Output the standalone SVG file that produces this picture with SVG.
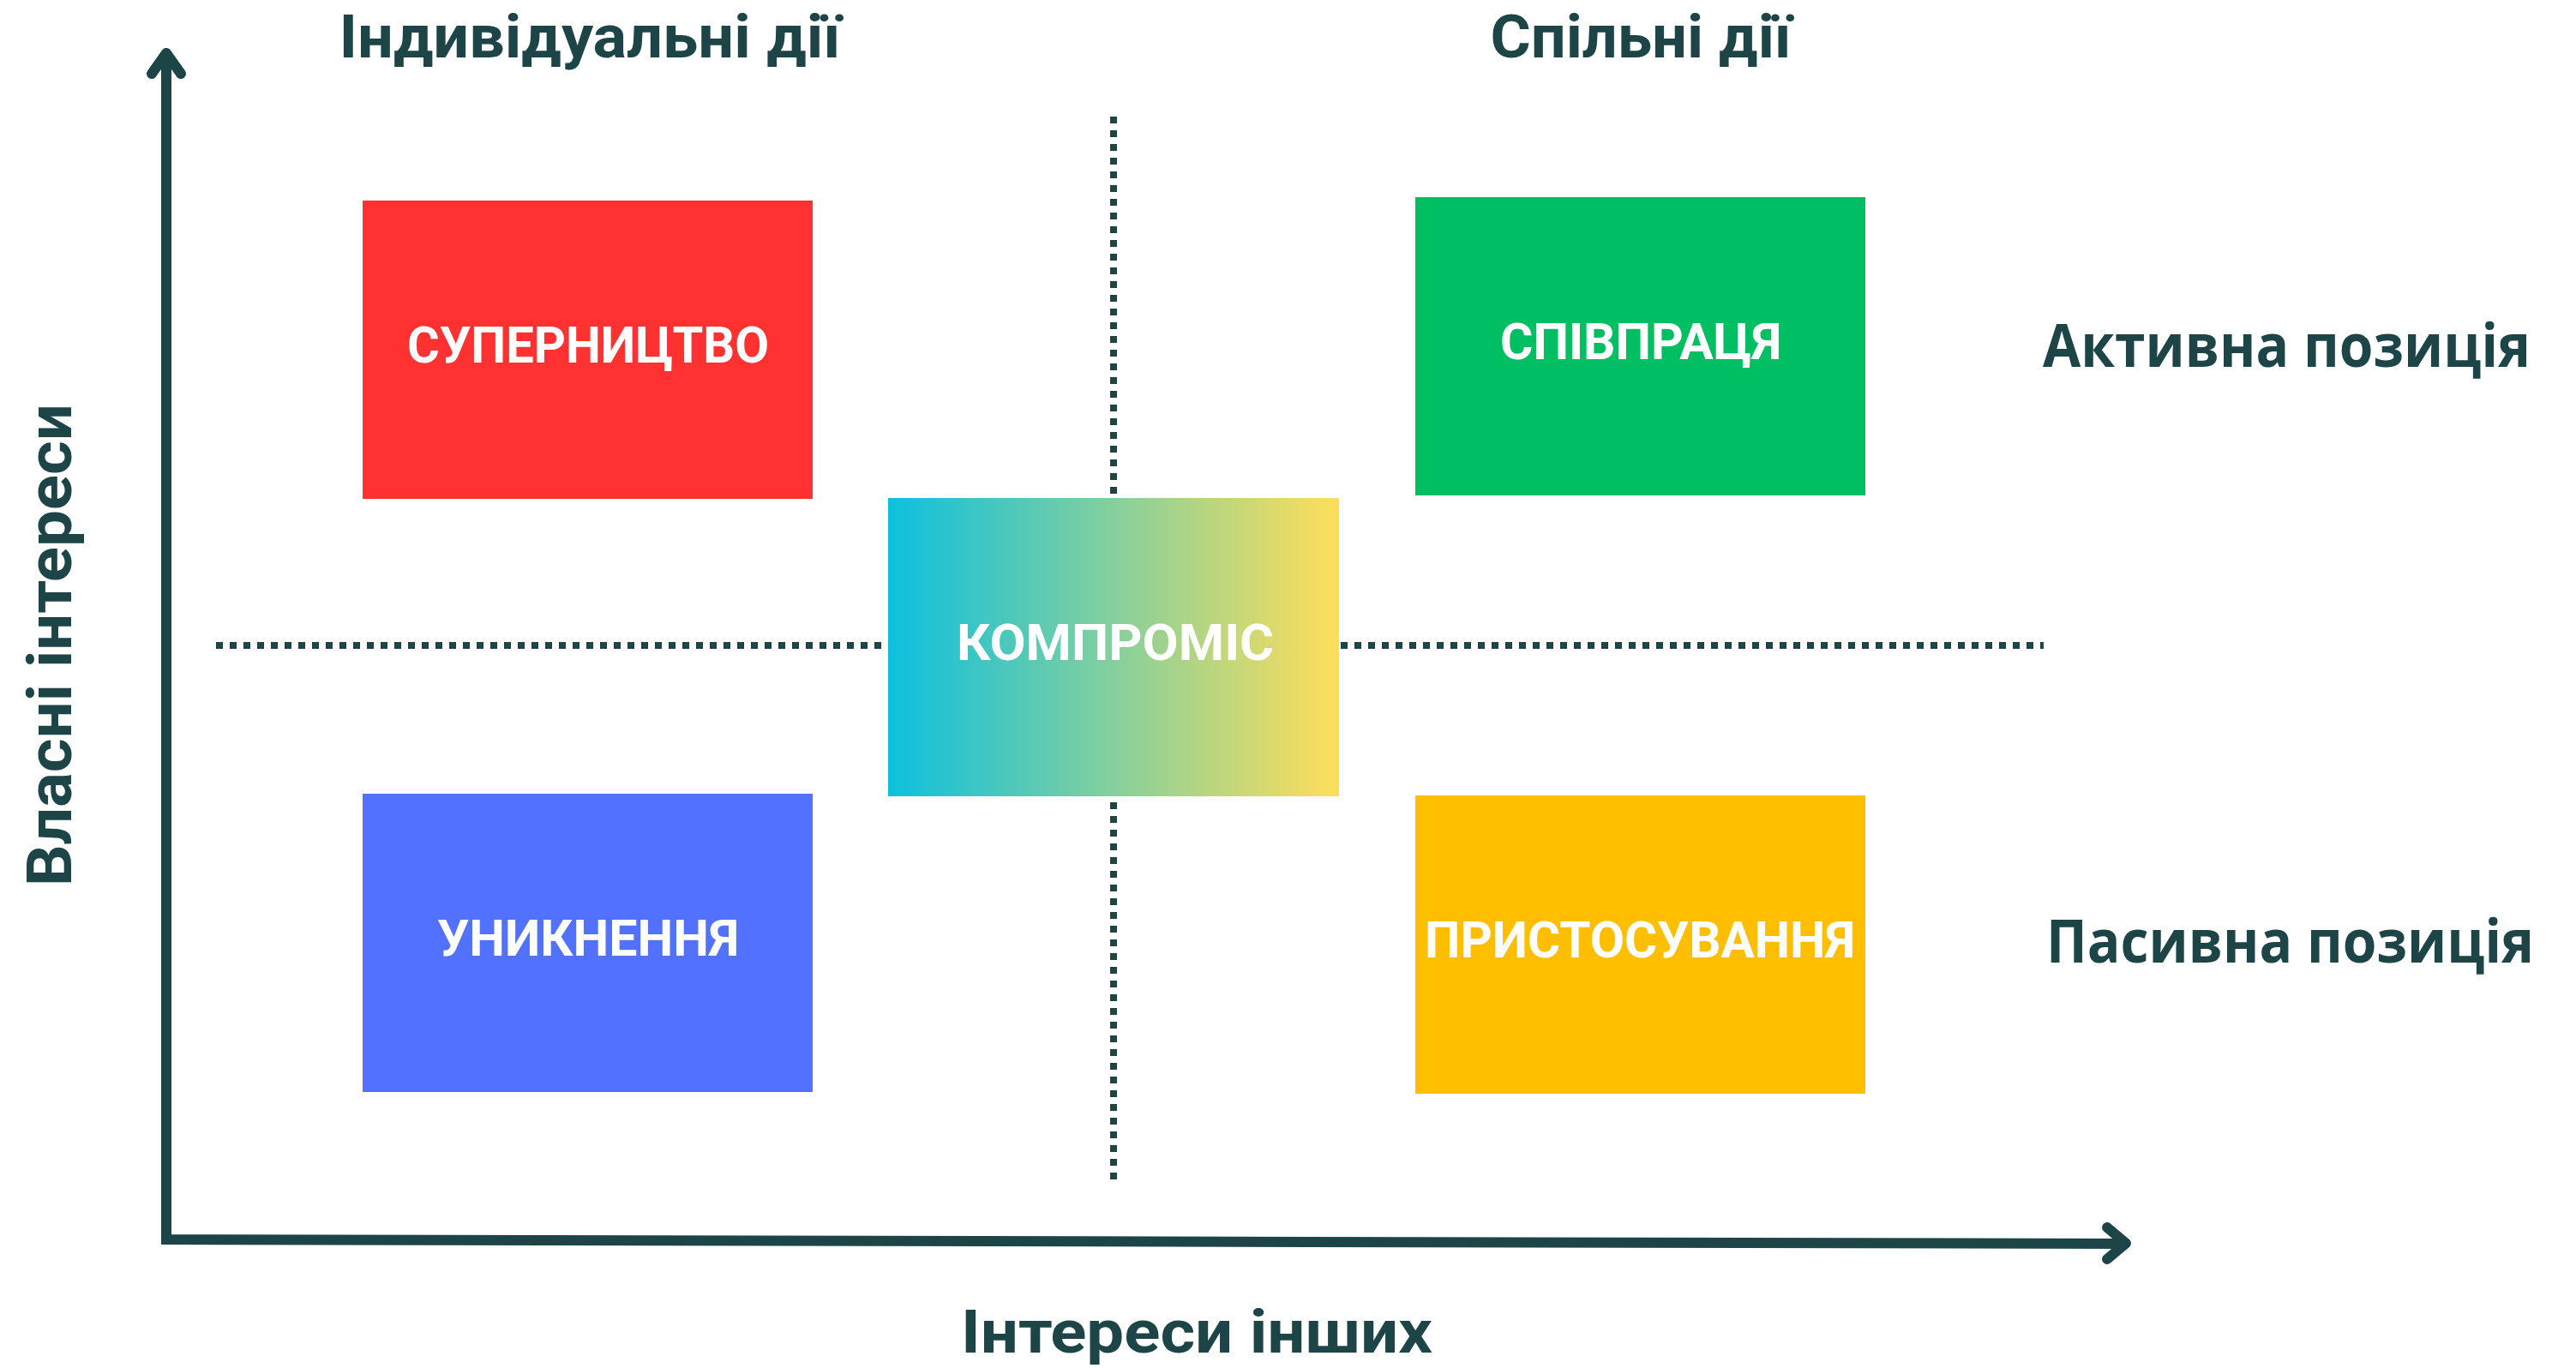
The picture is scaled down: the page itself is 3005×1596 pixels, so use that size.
<svg xmlns="http://www.w3.org/2000/svg" width="3005" height="1596" viewBox="0 0 3005 1596">
  <defs>
    <linearGradient id="gradComp" x1="0" y1="0" x2="1" y2="0">
      <stop offset="0" stop-color="#0CC0DF"/>
      <stop offset="1" stop-color="#FFDE59"/>
    </linearGradient>
    <style>
      .lbl { font-family: Roboto, "Open Sans", "DejaVu Sans", sans-serif; font-weight: 700; fill: #1D4547; }
      .side { font-family: "Open Sans", "DejaVu Sans", sans-serif; font-weight: 700; fill: #1D4547; font-size: 70px; }
      .box-text { font-family: Roboto, "Open Sans", "DejaVu Sans", sans-serif; font-weight: 700; fill: #FFFFFF; font-size: 60px; text-anchor: middle; }
      .axis { fill: none; stroke: #1D4547; stroke-width: 12; }
      .head { fill: none; stroke: #1D4547; stroke-width: 12; stroke-linecap: round; stroke-linejoin: round; }
      .dots { fill: none; stroke: #1D4547; stroke-width: 8; stroke-dasharray: 8 8; }
    </style>
  </defs>
  <rect width="3005" height="1596" fill="#FFFFFF"/>

  <g id="connectors">
    <line class="dots" x1="252" y1="753" x2="2384" y2="753"/>
    <line class="dots" x1="1299" y1="136" x2="1299" y2="1376"/>
    <polyline class="axis" stroke-linejoin="miter" points="194,66 194,1446 2478,1451"/>
    <polyline class="head" points="177,86 194,62 211,86"/>
    <polyline class="head" points="2458,1432 2480,1450.5 2458,1469"/>
  </g>

  <g id="labels">
    <text class="lbl" x="688" y="67" font-size="70" text-anchor="middle" textLength="585" lengthAdjust="spacingAndGlyphs">Індивідуальні дії</text>
    <text class="lbl" x="1914" y="67" font-size="70" text-anchor="middle" textLength="351" lengthAdjust="spacingAndGlyphs">Спільні дії</text>
    <text class="lbl" x="1396" y="1578" font-size="70" text-anchor="middle" textLength="550" lengthAdjust="spacingAndGlyphs">Інтереси інших</text>
    <text class="lbl" font-size="72" text-anchor="middle" transform="translate(83,752.5) rotate(-90)" textLength="563" lengthAdjust="spacingAndGlyphs">Власні інтереси</text>
    <text class="side" x="2383" y="428" textLength="569" lengthAdjust="spacingAndGlyphs">Активна позиція</text>
    <text class="side" x="2387" y="1123" textLength="569" lengthAdjust="spacingAndGlyphs">Пасивна позиція</text>
  </g>

  <g id="node-competition">
    <rect x="423" y="234" width="525" height="348" fill="#FF3131"/>
    <text class="box-text" x="686" y="423" textLength="422" lengthAdjust="spacingAndGlyphs">СУПЕРНИЦТВО</text>
  </g>
  <g id="node-collaboration">
    <rect x="1651" y="230" width="525" height="348" fill="#00BF63"/>
    <text class="box-text" x="1914" y="419" textLength="328" lengthAdjust="spacingAndGlyphs">СПІВПРАЦЯ</text>
  </g>
  <g id="node-avoidance">
    <rect x="423" y="926" width="525" height="348" fill="#5271FF"/>
    <text class="box-text" x="686" y="1115" textLength="352" lengthAdjust="spacingAndGlyphs">УНИКНЕННЯ</text>
  </g>
  <g id="node-accommodation">
    <rect x="1651" y="928" width="525" height="348" fill="#FFBF00"/>
    <text class="box-text" x="1913" y="1117" textLength="502" lengthAdjust="spacingAndGlyphs">ПРИСТОСУВАННЯ</text>
  </g>
  <g id="node-compromise">
    <rect x="1036" y="581" width="526" height="348" fill="url(#gradComp)"/>
    <text class="box-text" x="1301" y="770" textLength="370" lengthAdjust="spacingAndGlyphs">КОМПРОМІС</text>
  </g>
</svg>
